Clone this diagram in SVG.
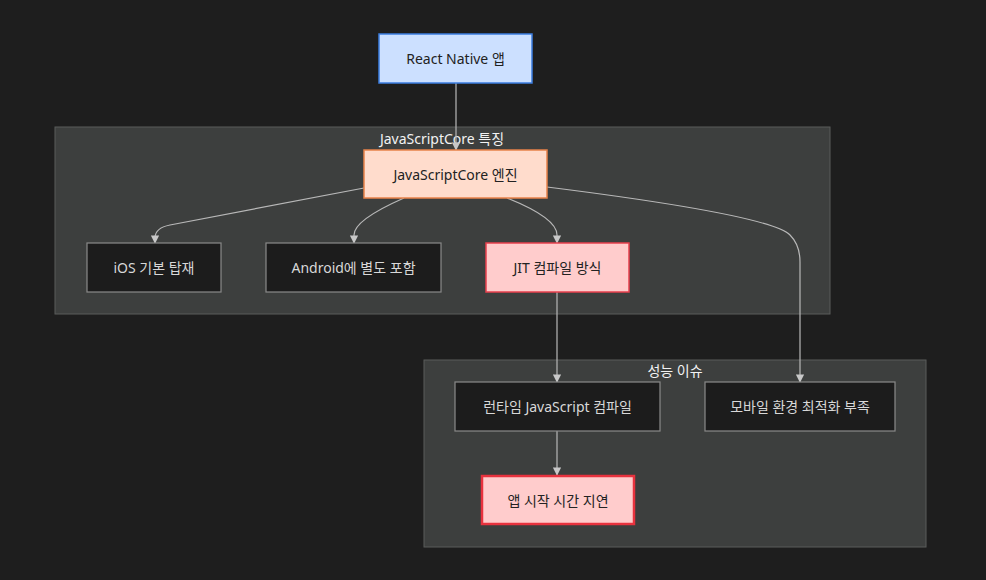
<svg xmlns="http://www.w3.org/2000/svg" width="986" height="580" viewBox="0 0 986 580">
<style>
text{font-family:"Noto Sans","Noto Sans CJK KR",sans-serif;font-size:14px;text-anchor:middle;dominant-baseline:central}
.cl{fill:#3d3f3e;stroke:#5a5c5b;stroke-width:1}
.ct{fill:#f2f2f2}
.dk{fill:#1c1c1c;stroke:#8a8a8a;stroke-width:1.2}
.dt{fill:#d8d8d8}
.lt{fill:#222}
.e{fill:none;stroke:#b8b8b8;stroke-width:1.2;marker-end:url(#a)}
</style>
<defs>
<marker id="a" viewBox="0 0 10 10" refX="9" refY="5" markerWidth="7" markerHeight="7" orient="auto-start-reverse">
<path d="M0,0L10,5L0,10z" fill="#c8c8c8"/>
</marker>
</defs>
<rect width="986" height="580" fill="#1e1e1e"/>
<g id="cluster1"><rect class="cl" x="55" y="127" width="775" height="187"/><text class="ct" x="442" y="138">JavaScriptCore 특징</text></g>
<g id="cluster2"><rect class="cl" x="424" y="360" width="502" height="187"/><text class="ct" x="675" y="370">성능 이슈</text></g>
<g id="edges">
<path class="e" d="M456,83V150"/>
<path class="e" d="M364,188L170,225Q155,228 155,238V243"/>
<path class="e" d="M404,198Q354,220 354,235V243"/>
<path class="e" d="M507,198Q557,218 557,235V243"/>
<path class="e" d="M547,187Q770,215 790,235Q800,245 800,262V382"/>
<path class="e" d="M557,292V382"/>
<path class="e" d="M557,431V475"/>
</g>
<g id="rn"><rect x="379" y="34" width="153" height="49" fill="#cce0ff" stroke="#3b7de0" stroke-width="1.5"/><text class="lt" x="455.5" y="58.5">React Native 앱</text></g>
<g id="jsc"><rect x="364" y="150" width="183" height="48" fill="#ffdccc" stroke="#e8824a" stroke-width="1.5"/><text class="lt" x="455.5" y="174">JavaScriptCore 엔진</text></g>
<g id="ios"><rect class="dk" x="87" y="243" width="134" height="49"/><text class="dt" x="154" y="267.5">iOS 기본 탑재</text></g>
<g id="android"><rect class="dk" x="266" y="243" width="175" height="49"/><text class="dt" x="353.5" y="267.5">Android에 별도 포함</text></g>
<g id="jit"><rect x="486" y="243" width="143" height="49" fill="#ffcccc" stroke="#e8404e" stroke-width="1.5"/><text class="lt" x="557.5" y="267.5">JIT 컴파일 방식</text></g>
<g id="runtime"><rect class="dk" x="455" y="382" width="205" height="49"/><text class="dt" x="557.5" y="406.5">런타임 JavaScript 컴파일</text></g>
<g id="mobile"><rect class="dk" x="705" y="382" width="190" height="49"/><text class="dt" x="800" y="406.5">모바일 환경 최적화 부족</text></g>
<g id="startup"><rect x="482" y="476" width="152" height="48" fill="#ffcccc" stroke="#e8323e" stroke-width="2.5"/><text class="lt" x="558" y="500">앱 시작 시간 지연</text></g>
</svg>
